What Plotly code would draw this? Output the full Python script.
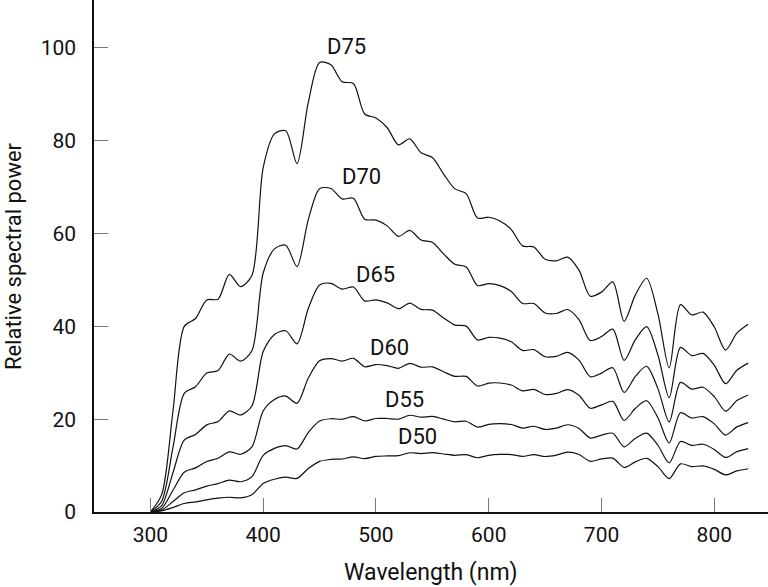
import plotly.graph_objects as go

wavelength = list(range(300, 831, 10))

d75 = [0.03, 3.74, 21.70, 39.99, 41.68, 45.68, 45.85, 51.19, 48.56, 50.93,
       74.20, 81.46, 82.12, 75.05, 88.23, 96.83, 96.36, 92.69, 92.31, 85.75,
       84.88, 82.78, 79.10, 80.40, 77.38, 76.37, 72.80, 69.61, 68.59, 63.33,
       63.50, 62.71, 60.85, 57.33, 57.09, 54.45, 54.11, 54.91, 52.11, 46.48,
       47.37, 49.56, 41.09, 46.77, 50.35, 42.69, 31.03, 44.66, 42.46, 43.06,
       39.85, 34.88, 38.52, 40.43]
d70 = [0.02, 2.32, 13.90, 25.54, 27.00, 29.92, 30.48, 34.03, 32.49, 34.72,
       51.48, 56.68, 57.47, 52.88, 63.00, 69.66, 69.69, 67.45, 67.59, 63.08,
       62.88, 61.64, 59.38, 60.67, 58.59, 58.10, 55.60, 53.36, 52.80, 48.79,
       49.20, 48.76, 47.51, 44.93, 44.92, 42.88, 42.77, 43.62, 41.44, 36.95,
       37.79, 39.40, 32.66, 37.12, 39.92, 33.83, 24.63, 35.46, 33.68, 34.17,
       31.60, 27.64, 30.54, 32.07]
d65 = [0.01, 1.38, 8.46, 15.49, 16.70, 18.77, 19.49, 21.77, 20.89, 22.84,
       34.59, 38.24, 39.05, 36.23, 43.83, 48.91, 49.25, 48.01, 48.46, 45.48,
       45.71, 45.06, 43.80, 45.01, 43.64, 43.49, 41.80, 40.27, 40.04, 37.07,
       37.62, 37.45, 36.66, 34.81, 34.99, 33.45, 33.53, 34.39, 32.72, 29.14,
       29.93, 31.08, 25.75, 29.21, 31.39, 26.58, 19.40, 27.92, 26.49, 26.88,
       24.85, 21.72, 24.01, 25.21]
d60 = [0.01, 0.77, 4.69, 8.57, 9.51, 10.88, 11.59, 12.96, 12.44, 14.02,
       21.77, 24.23, 24.98, 23.42, 28.86, 32.57, 33.06, 32.52, 33.11, 31.30,
       31.77, 31.53, 30.96, 32.03, 31.20, 31.27, 30.20, 29.22, 29.21, 27.15,
       27.77, 27.79, 27.36, 26.11, 26.42, 25.32, 25.54, 26.37, 25.15, 22.35,
       23.09, 23.83, 19.74, 22.34, 23.97, 20.29, 14.86, 21.37, 20.25, 20.55,
       18.99, 16.58, 18.34, 19.26]
d55 = [0.01, 0.42, 2.25, 4.13, 4.78, 5.57, 6.13, 6.87, 6.52, 7.62,
       12.19, 13.71, 14.32, 13.58, 17.12, 19.60, 20.09, 19.98, 20.55, 19.61,
       20.14, 20.14, 20.00, 20.84, 20.42, 20.59, 20.00, 19.44, 19.55, 18.29,
       18.89, 19.03, 18.85, 18.09, 18.47, 17.78, 18.07, 18.80, 18.00, 15.94,
       16.57, 16.97, 14.05, 15.87, 17.00, 14.38, 10.56, 15.19, 14.37, 14.59,
       13.47, 11.75, 13.00, 13.67]
d50 = [0.00, 0.26, 0.97, 1.84, 2.18, 2.62, 2.99, 3.18, 3.06, 3.73,
       6.16, 7.06, 7.50, 7.23, 9.35, 10.91, 11.33, 11.42, 11.89, 11.50,
       11.97, 12.08, 12.14, 12.76, 12.59, 12.79, 12.50, 12.22, 12.37, 11.69,
       12.21, 12.41, 12.38, 11.97, 12.36, 11.96, 12.27, 12.88, 12.39, 10.92,
       11.45, 11.61, 9.61, 10.81, 11.57, 9.78, 7.21, 10.37, 9.78, 9.94,
       9.18, 8.00, 8.85, 9.31]

series_names = ["D75", "D70", "D65", "D60", "D55", "D50"]
series_values = [d75, d70, d65, d60, d55, d50]
label_x = [474, 487, 500, 512, 525, 537]
label_y = [100.2, 72.2, 51.1, 35.4, 24.2, 16.2]

x_ticks = [300, 400, 500, 600, 700, 800]
y_ticks = [0, 20, 40, 60, 80, 100]

FONT = "Roboto, Lato, 'DejaVu Sans', sans-serif"
FS = 22
TICK_FS = 21

fig = go.Figure()
for name, vals in zip(series_names, series_values):
    fig.add_trace(go.Scatter(
        x=wavelength, y=vals, mode="lines", name=name,
        line=dict(color="#111111", width=1.2, shape="spline", smoothing=0.8),
        hoverinfo="x+y+name",
    ))

for name, lx, ly in zip(series_names, label_x, label_y):
    fig.add_annotation(x=lx, y=ly, text=name, showarrow=False,
                       font=dict(family=FONT, size=FS, color="#111111"),
                       xanchor="center", yanchor="middle")

# axis titles placed as annotations (paper coordinates)
fig.add_annotation(xref="paper", yref="paper", x=0.5, y=-0.119,
                   text="Wavelength (nm)", showarrow=False,
                   xanchor="center", yanchor="middle",
                   font=dict(family=FONT, size=23, color="#111111"))
fig.add_annotation(xref="paper", yref="paper", x=-0.12, y=0.5,
                   text="Relative spectral power", showarrow=False,
                   textangle=-90, xanchor="center", yanchor="middle",
                   font=dict(family=FONT, size=FS, color="#111111"))

fig.update_layout(
    width=768, height=587,
    margin=dict(l=94, r=0, t=0, b=75, autoexpand=False),
    paper_bgcolor="white", plot_bgcolor="white",
    showlegend=False,
    font=dict(family=FONT, size=FS, color="#111111"),
)
fig.update_xaxes(
    range=[250, 847.6], tickvals=x_ticks, ticks="inside", ticklen=14,
    tickcolor="#777777", tickwidth=1.3, showline=True, linecolor="#111111",
    linewidth=1.5, showgrid=False, zeroline=False, automargin=False,
    tickfont=dict(family=FONT, size=TICK_FS), ticklabelstandoff=3,
)
fig.update_yaxes(
    range=[0, 110.3], tickvals=y_ticks, ticks="inside", ticklen=14,
    tickcolor="#777777", tickwidth=1.3, showline=True, linecolor="#111111",
    linewidth=1.5, showgrid=False, zeroline=False, automargin=False,
    tickfont=dict(family=FONT, size=TICK_FS), ticklabelstandoff=12,
)

fig.write_html(
    "out.html",
    config={"displayModeBar": False},
    post_script="document.body.style.margin='0';document.body.style.overflow='hidden';",
)
